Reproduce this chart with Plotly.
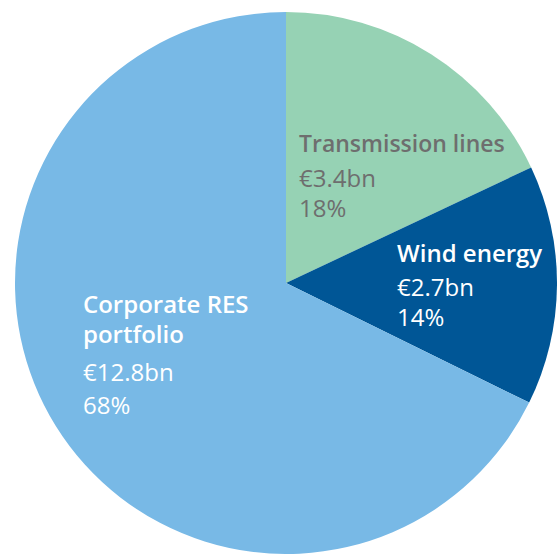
import plotly.graph_objects as go

labels = ["Transmission lines", "Wind energy", "Corporate RES portfolio"]
values = [3.4, 2.7, 12.8]
value_text = ["€3.4bn", "€2.7bn", "€12.8bn"]
pct_text = ["18%", "14%", "68%"]
colors = ["#96d2b4", "#005696", "#78b9e6"]

W, H = 558, 554
fig = go.Figure(go.Pie(
    labels=labels, values=values, sort=False, direction="clockwise", rotation=0,
    marker=dict(colors=colors, line=dict(width=0)), textinfo="none",
    hoverinfo="label+value+percent",
    domain=dict(x=[14 / W, 1], y=[0, 542 / H]),
))

font = "Open Sans"
def add(text, px, py, color, size, weight=400):
    fig.add_annotation(
        text=text, x=px / W, y=1 - py / H,
        xref="paper", yref="paper", xanchor="left", yanchor="middle",
        showarrow=False, font=dict(family=font, size=size, color=color, weight=weight))

grey = "#6e6e6e"
white = "#ffffff"
S = 24
add(labels[0], 297, 143, grey, 23, 600)
add(value_text[0], 297, 177, grey, S)
add(pct_text[0], 297, 207, grey, S)
add(labels[1], 395, 252, white, S, 600)
add(value_text[1], 395, 286, white, S)
add(pct_text[1], 395, 316, white, S)
add("Corporate RES", 81, 303, white, S, 600)
add("portfolio", 81, 333, white, S, 600)
add(value_text[2], 81, 371, white, S)
add(pct_text[2], 81, 404, white, S)

fig.update_layout(width=W, height=H, margin=dict(l=0, r=0, t=0, b=0),
                  showlegend=False, paper_bgcolor="white")
fig.write_html(
    "out.html",
    config={"displayModeBar": False},
    post_script="document.body.style.margin='0';document.documentElement.style.overflow='hidden';",
)
